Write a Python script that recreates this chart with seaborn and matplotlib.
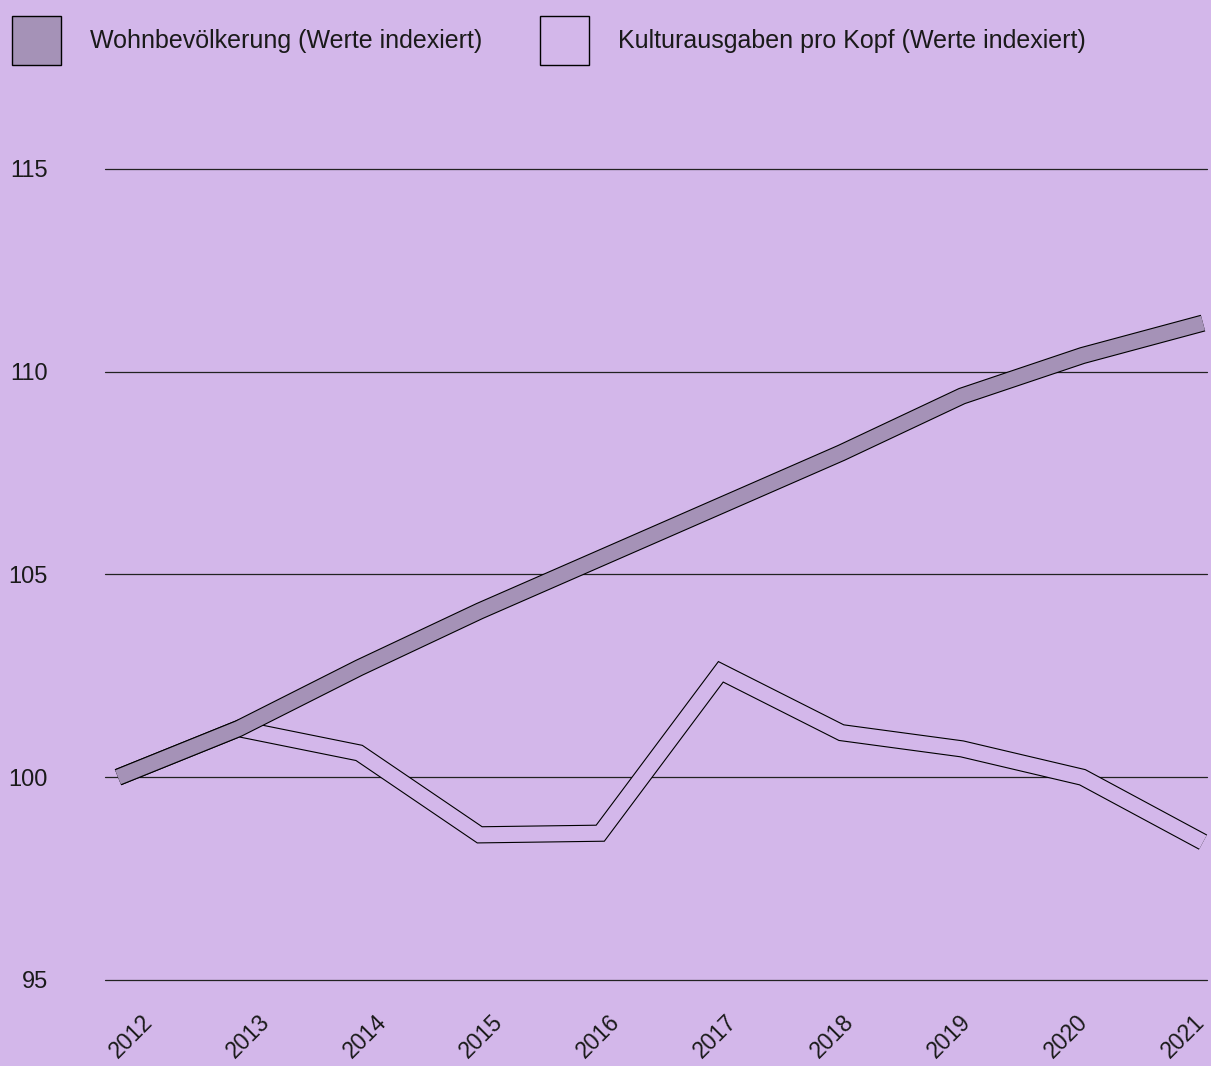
import numpy as np
import matplotlib
matplotlib.use("Agg")
import matplotlib.pyplot as plt
import matplotlib.patheffects as pe
from matplotlib.patches import Patch
import seaborn as sns
import pandas as pd

# data
years = [2012, 2013, 2014, 2015, 2016, 2017, 2018, 2019, 2020, 2021]
wohnbevoelkerung = [100.0, 101.2, 102.7, 104.1, 105.4, 106.7, 108.0, 109.4, 110.4, 111.2]
kulturausgaben = [100.0, 101.2, 100.6, 98.58, 98.62, 102.6, 101.1, 100.7, 100.0, 98.4]
y_ticks = [95, 100, 105, 110, 115]
labels = ["Wohnbevölkerung (Werte indexiert)", "Kulturausgaben pro Kopf (Werte indexiert)"]

bg = "#D3B7EA"
mauve = "#A592B7"

sns.set_theme(style="white")
plt.rcParams['font.family'] = ['Liberation Sans', 'DejaVu Sans']

df = pd.DataFrame({"Jahr": years, "Wohn": wohnbevoelkerung, "Kultur": kulturausgaben})

fig = plt.figure(figsize=(12.11, 10.66), dpi=100, facecolor=bg)
ax = fig.add_axes([105 / 1211, 86 / 1066, 1102 / 1211, 811 / 1066])
ax.set_facecolor(bg)

outline = [pe.Stroke(linewidth=12.4, foreground="black"), pe.Normal()]
sns.lineplot(data=df, x="Jahr", y="Kultur", ax=ax, color=bg, linewidth=10.8,
             path_effects=outline, solid_capstyle="butt", solid_joinstyle="miter",
             zorder=3, clip_on=False)
sns.lineplot(data=df, x="Jahr", y="Wohn", ax=ax, color=mauve, linewidth=10.8,
             path_effects=outline, solid_capstyle="butt", solid_joinstyle="miter",
             zorder=4, clip_on=False)

ax.set_xlim(2011.892, 2021.033)
ax.set_ylim(95, 115)
ax.set_yticks(y_ticks)
ax.set_xticks(years)
ax.set_xticklabels([])
ax.tick_params(axis="y", length=0, pad=41, labelsize=17, labelcolor="#1a1a1a")
ax.tick_params(axis="x", length=0)
ax.set_xlabel("")
ax.set_ylabel("")
ax.yaxis.grid(True, color="#222222", linewidth=0.9)
ax.xaxis.grid(False)
for gl in ax.get_ygridlines():
    gl.set_clip_on(False)
ax.set_axisbelow(True)
for s in ax.spines.values():
    s.set_visible(False)

# year labels sit on a slightly different spacing than the line points
ax2 = ax.twiny()
ax2.set_xlim(2011.778, 2021.205)
ax2.xaxis.set_ticks_position("bottom")
ax2.xaxis.set_label_position("bottom")
ax2.set_xticks(years)
ax2.set_xticklabels([str(y) for y in years], rotation=45, ha="center")
ax2.tick_params(axis="x", length=0, pad=22, labelsize=16.5, labelcolor="#1a1a1a")
for s in ax2.spines.values():
    s.set_visible(False)

handles = [Patch(facecolor=mauve, edgecolor="black", linewidth=1),
           Patch(facecolor=bg, edgecolor="black", linewidth=1)]
fig.legend(handles=handles, labels=labels, loc="upper left",
           bbox_to_anchor=(12 / 1211, 1 - 16 / 1066), ncol=2, frameon=False,
           fontsize=18, handlelength=1.96, handleheight=2.64, handletextpad=1.16,
           columnspacing=2.3, borderpad=0, borderaxespad=0,
           labelcolor="#1a1a1a")

fig.savefig("out.png", dpi=100, facecolor=bg)
